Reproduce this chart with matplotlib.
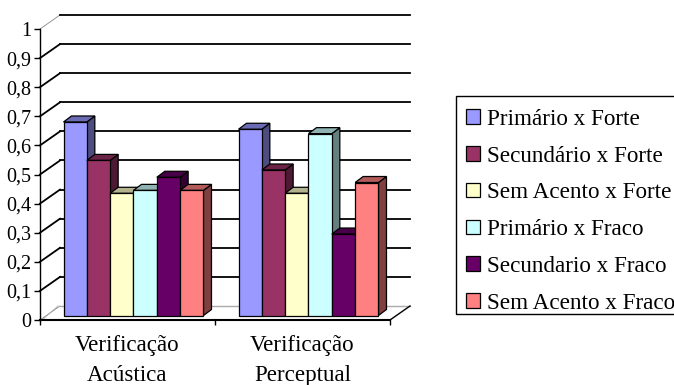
import matplotlib
matplotlib.use("Agg")
import matplotlib.pyplot as plt
import numpy as np
from matplotlib.patches import Patch, Polygon, Rectangle

plt.rcParams["font.family"] = ["Liberation Serif", "DejaVu Serif"]

# data
categories = ["Verificação\nAcústica", "Verificação\nPerceptual"]
series_names = ["Primário x Forte", "Secundário x Forte", "Sem Acento x Forte",
                "Primário x Fraco", "Secundario x Fraco", "Sem Acento x Fraco"]
acustica = [0.665, 0.533, 0.42, 0.43, 0.475, 0.43]
perceptual = [0.64, 0.50, 0.42, 0.625, 0.28, 0.457]
y_ticks = [0, 0.1, 0.2, 0.3, 0.4, 0.5, 0.6, 0.7, 0.8, 0.9, 1]
y_labels = ["0", "0,1", "0,2", "0,3", "0,4", "0,5", "0,6", "0,7", "0,8", "0,9", "1"]
colors = ["#9999FF", "#993366", "#FFFFCC", "#CCFFFF", "#660066", "#FF8080"]

W, H = 674, 385
# plot box in pixels, x axis spans two categories
left, right, bottom, top = 40, 390, 320, 29

fig = plt.figure(figsize=(W / 100, H / 100), dpi=100)
ax = fig.add_axes([left / W, 1 - bottom / H, (right - left) / W, (bottom - top) / H])
ax.set_xlim(0, 2)
ax.set_ylim(0, 1)
ax.patch.set_visible(False)

# pseudo 3d depth, expressed in data units
px_x = 2 / (right - left)
px_y = 1 / (bottom - top)
wall_dx, wall_dy = 20 * px_x, 14 * px_y
bar_dx, bar_dy = 6 * px_x, 4.5 * px_y
depth_dx, depth_dy = 8 * px_x, 6 * px_y
bar_w = 23.33 * px_x
gap = 17.5 * px_x


def shade(color, f):
    return tuple(c * f for c in matplotlib.colors.to_rgb(color))


# back wall and the left side wall
for i, v in enumerate(y_ticks):
    edge = i == 0 or i == len(y_ticks) - 1
    ax.plot([0, wall_dx], [v, v + wall_dy], color="#888888" if edge else "black",
            lw=0.6 if edge else 1.3, clip_on=False, zorder=1)
    ax.plot([wall_dx, 2 + wall_dx], [v + wall_dy, v + wall_dy], color="#AAAAAA" if i == 0 else "black",
            lw=1.0 if i == 0 else 1.3, clip_on=False, zorder=1)
ax.plot([0.012, wall_dx - 0.012], [0, wall_dy], color="#AAAAAA", lw=0.6, clip_on=False, zorder=1)
ax.plot([2, 2 + wall_dx], [0, wall_dy], color="black", lw=1.0, clip_on=False, zorder=1)

# bars, left to right so each front hides the previous side face
z = 2
for g, values in enumerate([acustica, perceptual]):
    for i, v in enumerate(values):
        x0 = g + gap + bar_dx + i * bar_w
        x1 = x0 + bar_w
        y0 = bar_dy
        y1 = v + bar_dy
        side = [(x1, y0), (x1 + depth_dx, y0 + depth_dy), (x1 + depth_dx, y1 + depth_dy), (x1, y1)]
        cap = [(x0, y1), (x0 + depth_dx, y1 + depth_dy), (x1 + depth_dx, y1 + depth_dy), (x1, y1)]
        front = [(x0, y0), (x1, y0), (x1, y1), (x0, y1)]
        for pts, f in [(side, 0.5), (cap, 0.7), (front, 1.0)]:
            ax.add_patch(Polygon(pts, closed=True, facecolor=shade(colors[i], f), edgecolor="black",
                                 lw=0.9, clip_on=False, zorder=z))
            z += 1

# axes
ax.spines["top"].set_visible(False)
ax.spines["right"].set_visible(False)
ax.spines["left"].set_linewidth(1.0)
ax.spines["bottom"].set_linewidth(1.5)
for s in ax.spines.values():
    s.set_zorder(z + 1)
ax.set_yticks(y_ticks, y_labels)
ax.set_xticks([0, 1, 2], ["", "", ""])
ax.set_xticks([0.5, 1.5], categories, minor=True)
ax.tick_params(axis="y", length=4, width=1, pad=2.5, labelsize=14.5)
ax.tick_params(axis="x", which="major", length=3.5, width=1)
ax.tick_params(axis="x", which="minor", length=0, pad=11, labelsize=16.6)
for t in ax.get_xticklabels(minor=True):
    t.set_linespacing(1.55)

# legend box runs past the right edge of the figure
fig.add_artist(Rectangle((456 / W, 1 - 314 / H), 240 / W, 218 / H, transform=fig.transFigure,
                         facecolor="white", edgecolor="black", lw=1.0))
handles = [Patch(facecolor=c, edgecolor="black", lw=0.9) for c in colors]
leg = fig.legend(handles, series_names, loc="upper left", bbox_to_anchor=(456 / W, 1 - 99 / H),
                 fontsize=16.7, frameon=False, borderpad=0.42, borderaxespad=0, labelspacing=0.68,
                 handlelength=0.6, handleheight=0.6, handletextpad=0.33)

fig.savefig("out.png", dpi=100)
